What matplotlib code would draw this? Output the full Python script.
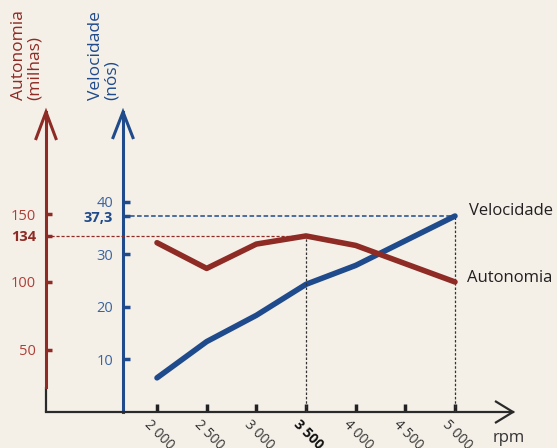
import matplotlib
matplotlib.use("Agg")
import matplotlib.pyplot as plt
from matplotlib.lines import Line2D
from matplotlib.transforms import ScaledTranslation

plt.rcParams['font.family'] = ['Open Sans', 'DejaVu Sans']

# ---------------- data ----------------
rpm = [2000, 2500, 3000, 3500, 4000, 5000]
velocidade = [6.5, 13.4, 18.4, 24.3, 27.9, 37.3]          # nós
autonomia = [129, 110, 128, 134, 127, 100]                  # milhas
rpm_ticks = [2000, 2500, 3000, 3500, 4000, 4500, 5000]
rpm_labels = ['2 000', '2 500', '3 000', '3 500', '4 000', '4 500', '5 000']
vel_ticks = [10, 20, 30, 37.3, 40]
vel_labels = ['10', '20', '30', '37,3', '40']
aut_ticks = [50, 100, 134, 150]
aut_labels = ['50', '100', '134', '150']
vel_highlight = 37.3
aut_highlight = 134
rpm_vel_highlight = 5000
rpm_aut_highlight = 3500

# ---------------- style ----------------
BG = '#f4f0e8'
RED = '#8e2b25'
RED_T = '#ad3f38'
BLUE = '#1f4a8b'
BLUE_T = '#3b63a0'
DARK = '#231f20'

W, H = 557, 448
fig = plt.figure(figsize=(W / 100, H / 100), dpi=100)
fig.patch.set_facecolor(BG)

ax = fig.add_axes([46 / W, (H - 412) / H, (513 - 46) / W, (412 - 112) / H])
ax.set_facecolor('none')
ax2 = ax.twinx()

ax.set_xlim(882.5, 5584)
ax.set_ylim(0, 57.1)
ax2.set_ylim(3.9, 225.6)

# data lines
ax.plot(rpm, velocidade, color=BLUE, lw=4, solid_capstyle='round', solid_joinstyle='round', zorder=5)
ax2.plot(rpm, autonomia, color=RED, lw=4, solid_capstyle='round', solid_joinstyle='round', zorder=5)

# reference lines
x0, x1 = ax.get_xlim()
blue_axis_frac = 77 / 467
x_blue = x0 + blue_axis_frac * (x1 - x0)
ax.plot([x_blue, rpm_vel_highlight], [vel_highlight, vel_highlight], color=BLUE,
        lw=1.1, ls=(0, (3, 1.6)), zorder=3)
ax.plot([rpm_vel_highlight, rpm_vel_highlight], [0, vel_highlight], color='#333333',
        lw=0.9, ls=(0, (2, 1.5)), zorder=3)
ax2.plot([x0, rpm_aut_highlight], [aut_highlight, aut_highlight], color=RED,
         lw=0.9, ls=(0, (2.5, 1.5)), zorder=3)
ax2.plot([rpm_aut_highlight, rpm_aut_highlight], [ax2.get_ylim()[0], aut_highlight],
         color='#333333', lw=0.9, ls=(0, (2, 1.5)), zorder=3)

# spines - velocity axis
for s in ['top', 'right']:
    ax.spines[s].set_visible(False)
ax.spines['left'].set_position(('axes', blue_axis_frac))
ax.spines['left'].set_color(BLUE)
ax.spines['left'].set_linewidth(2.2)
ax.spines['bottom'].set_color('#2a2a2a')
ax.spines['bottom'].set_linewidth(1.6)

ax.set_yticks(vel_ticks, vel_labels)
ax.tick_params(axis='y', direction='in', length=5, width=2.5, color=BLUE,
               labelcolor=BLUE_T, labelsize=10.5, pad=7)
for lab, v in zip(ax.get_yticklabels(), vel_ticks):
    if v == vel_highlight:
        lab.set_fontweight('bold')
        lab.set_color(BLUE)

ax.set_xticks(rpm_ticks, rpm_labels)
ax.tick_params(axis='x', direction='in', length=6, width=2.5, color='#222222',
               labelcolor='#333333', labelsize=10, pad=4)
shift = ScaledTranslation(-5 / 100, 0, fig.dpi_scale_trans)
for lab, v in zip(ax.get_xticklabels(), rpm_ticks):
    lab.set_rotation(-45)
    lab.set_rotation_mode('anchor')
    lab.set_ha('left')
    lab.set_va('top')
    lab.set_transform(lab.get_transform() + shift)
    if v == rpm_aut_highlight:
        lab.set_fontweight('bold')
        lab.set_color('#111111')

# spines - autonomy axis
for s in ['top', 'right', 'bottom']:
    ax2.spines[s].set_visible(False)
ax2.spines['left'].set_visible(True)
ax2.spines['left'].set_position(('axes', 0))
ax2.spines['left'].set_color(RED)
ax2.spines['left'].set_linewidth(2.2)
ax2.spines['left'].set_bounds(22.4, ax2.get_ylim()[1])
ax2.yaxis.set_ticks_position('left')
ax2.set_yticks(aut_ticks, aut_labels)
ax2.tick_params(axis='y', direction='in', length=4, width=2.5, color=RED,
                labelcolor=RED_T, labelsize=10.5, pad=7)
for lab, v in zip(ax2.get_yticklabels(), aut_ticks):
    if v == aut_highlight:
        lab.set_fontweight('bold')
        lab.set_color(RED)

# black foot of the left axis
ax.plot([0, 0], [0, 25 / 300], transform=ax.transAxes, color='#2a2a2a', lw=1.6,
        clip_on=False, solid_capstyle='butt')

# arrow heads (chevrons) in pixel space
def chevron(pts, color, lw):
    xs = [p[0] / 100 for p in pts]
    ys = [(H - p[1]) / 100 for p in pts]
    fig.add_artist(Line2D(xs, ys, transform=fig.dpi_scale_trans, color=color, lw=lw,
                          solid_joinstyle='miter', solid_capstyle='butt'))

chevron([(35.5, 140), (46, 112), (56.5, 140)], RED, 2.2)
chevron([(112.5, 139), (123, 112), (133.5, 139)], BLUE, 2.2)
chevron([(495, 401), (513, 412), (495, 423)], '#2a2a2a', 1.6)

# axis titles
fig.text(27 / W, (H - 100) / H, 'Autonomia\n(milhas)', rotation=90, color=RED,
         fontsize=12.5, ha='center', va='bottom', multialignment='left', linespacing=0.95)
fig.text(104 / W, (H - 100) / H, 'Velocidade\n(nós)', rotation=90, color=BLUE,
         fontsize=12.5, ha='center', va='bottom', multialignment='left', linespacing=0.95)
fig.text(493 / W, (H - 442) / H, 'rpm', color='#333333', fontsize=12, ha='left', va='baseline')

# series labels
ax.annotate('Velocidade', xy=(rpm[-1], velocidade[-1]), xytext=(10, 3.5),
            textcoords='offset points', ha='left', va='center', fontsize=12, color=DARK)
ax2.annotate('Autonomia', xy=(rpm[-1], autonomia[-1]), xytext=(8.5, 3),
             textcoords='offset points', ha='left', va='center', fontsize=12, color=DARK)

fig.savefig('out.png', dpi=100, facecolor=BG)
